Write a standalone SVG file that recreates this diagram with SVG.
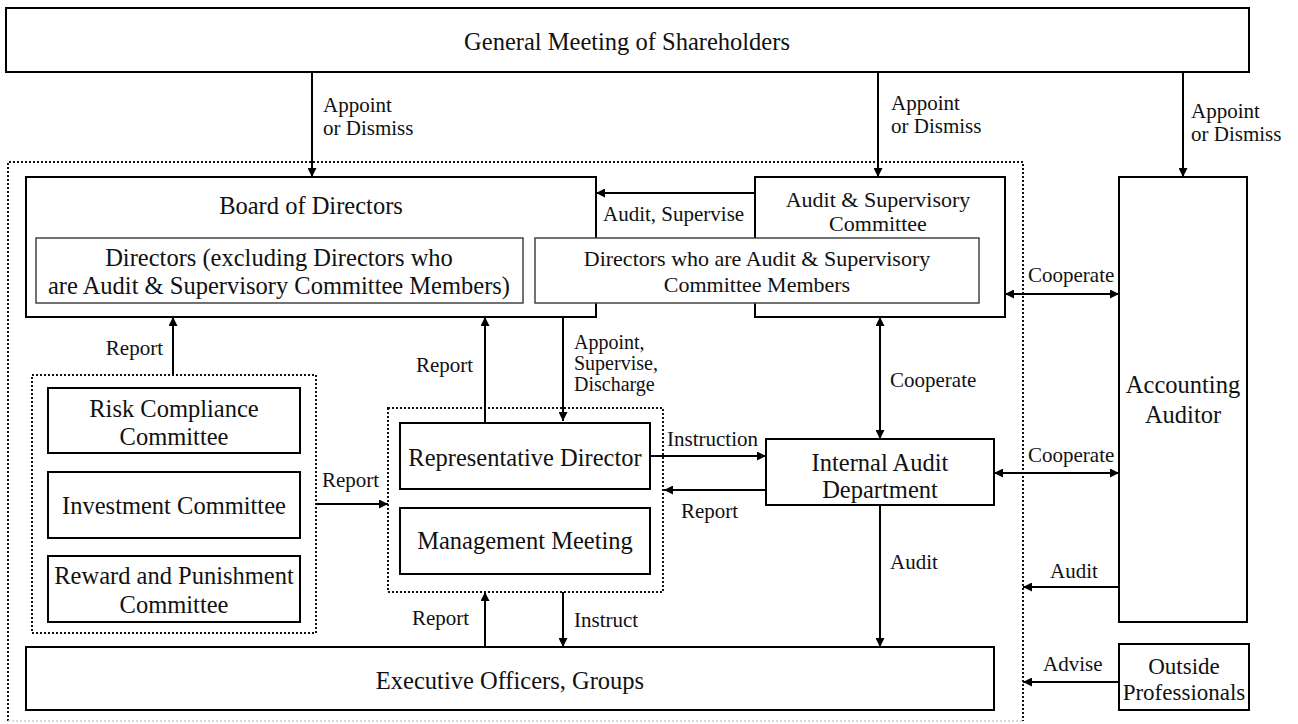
<svg xmlns="http://www.w3.org/2000/svg" width="1298" height="724" viewBox="0 0 1298 724">
<defs>
<style>
.box{fill:#fff;stroke:#000;stroke-width:2}
.inner{fill:#fff;stroke:#444;stroke-width:1.5}
.dot{fill:none;stroke:#111;stroke-width:2;stroke-dasharray:2 2}
.t{font-family:"Liberation Serif","Times New Roman",serif;font-size:24.5px;text-anchor:middle;fill:#111}
.s{font-size:22px}
.l{font-family:"Liberation Serif","Times New Roman",serif;font-size:21px;fill:#111}
.c line{stroke:#000;stroke-width:2}
</style>
<marker id="ah" viewBox="0 0 10 10" refX="10" refY="5" markerWidth="9" markerHeight="9" markerUnits="userSpaceOnUse" orient="auto-start-reverse">
<path d="M0,0 L10,5 L0,10 z" fill="#000"/>
</marker>
</defs>
<rect width="1298" height="724" fill="#fff"/>

<g id="company-boundary">
<path class="dot" d="M8,721 L8,162 L1023,162 L1023,721"/>
<line x1="8" y1="721" x2="1023" y2="721" stroke="#ccc" stroke-width="1.5" stroke-dasharray="2 2"/>
</g>

<g id="general-meeting">
<rect class="box" x="6" y="8" width="1243" height="64"/>
<text class="t" x="627" y="50">General Meeting of Shareholders</text>
</g>

<g id="board">
<rect class="box" x="26" y="177" width="570" height="140"/>
<text class="t" x="311" y="214">Board of Directors</text>
</g>

<g id="audit-committee">
<rect class="box" x="755" y="177" width="250" height="140"/>
<text class="t s" x="878" y="207">Audit &amp; Supervisory</text>
<text class="t s" x="878" y="231">Committee</text>
</g>

<g id="directors-excl">
<rect class="inner" x="36" y="238" width="487" height="65"/>
<text class="t" x="279" y="266">Directors (excluding Directors who</text>
<text class="t" x="279" y="294">are Audit &amp; Supervisory Committee Members)</text>
</g>

<g id="directors-ac">
<rect class="inner" x="535" y="238" width="444" height="65"/>
<text class="t s" x="757" y="266">Directors who are Audit &amp; Supervisory</text>
<text class="t s" x="757" y="292">Committee Members</text>
</g>

<g id="accounting-auditor">
<rect class="box" x="1119" y="177" width="128" height="445"/>
<text class="t" x="1183" y="393">Accounting</text>
<text class="t" x="1183" y="423">Auditor</text>
</g>

<g id="committees">
<rect class="dot" x="32" y="375" width="284" height="258"/>
<g id="risk-committee">
<rect class="box" x="48" y="388" width="252" height="65"/>
<text class="t" x="174" y="417">Risk Compliance</text>
<text class="t" x="174" y="445">Committee</text>
</g>
<g id="investment-committee">
<rect class="box" x="48" y="472" width="252" height="66"/>
<text class="t" x="174" y="514">Investment Committee</text>
</g>
<g id="reward-committee">
<rect class="box" x="48" y="556" width="252" height="66"/>
<text class="t" x="174" y="584">Reward and Punishment</text>
<text class="t" x="174" y="613">Committee</text>
</g>
</g>

<g id="executive-group">
<rect class="dot" x="388" y="408" width="275" height="184"/>
<g id="representative-director">
<rect class="box" x="400" y="423" width="250" height="66"/>
<text class="t" x="525" y="466">Representative Director</text>
</g>
<g id="management-meeting">
<rect class="box" x="400" y="508" width="250" height="66"/>
<text class="t" x="525" y="549">Management Meeting</text>
</g>
</g>

<g id="internal-audit">
<rect class="box" x="766" y="439" width="228" height="66"/>
<text class="t" x="880" y="471">Internal Audit</text>
<text class="t" x="880" y="498">Department</text>
</g>

<g id="executive-officers">
<rect class="box" x="26" y="647" width="968" height="63"/>
<text class="t" x="510" y="689">Executive Officers, Groups</text>
</g>

<g id="outside-professionals">
<rect class="box" x="1119" y="644" width="130" height="66"/>
<text class="t" x="1184" y="674" style="font-size:23px">Outside</text>
<text class="t" x="1184" y="700" style="font-size:23px">Professionals</text>
</g>

<g id="connectors" class="c">
<line x1="312" y1="72" x2="312" y2="177" marker-end="url(#ah)"/>
<line x1="878" y1="72" x2="878" y2="177" marker-end="url(#ah)"/>
<line x1="1183" y1="72" x2="1183" y2="177" marker-end="url(#ah)"/>
<line x1="755" y1="193" x2="596" y2="193" marker-end="url(#ah)"/>
<line x1="1005" y1="294" x2="1119" y2="294" marker-start="url(#ah)" marker-end="url(#ah)"/>
<line x1="173" y1="375" x2="173" y2="317" marker-end="url(#ah)"/>
<line x1="485" y1="423" x2="485" y2="317" marker-end="url(#ah)"/>
<line x1="563" y1="317" x2="563" y2="421" marker-end="url(#ah)"/>
<line x1="880" y1="317" x2="880" y2="439" marker-start="url(#ah)" marker-end="url(#ah)"/>
<line x1="316" y1="504" x2="388" y2="504" marker-end="url(#ah)"/>
<line x1="650" y1="456" x2="766" y2="456" marker-end="url(#ah)"/>
<line x1="766" y1="490" x2="664" y2="490" marker-end="url(#ah)"/>
<line x1="994" y1="473" x2="1119" y2="473" marker-start="url(#ah)" marker-end="url(#ah)"/>
<line x1="880" y1="505" x2="880" y2="647" marker-end="url(#ah)"/>
<line x1="1119" y1="587" x2="1023" y2="587" marker-end="url(#ah)"/>
<line x1="1119" y1="682" x2="1023" y2="682" marker-end="url(#ah)"/>
<line x1="485" y1="647" x2="485" y2="592" marker-end="url(#ah)"/>
<line x1="563" y1="592" x2="563" y2="647" marker-end="url(#ah)"/>
</g>

<g id="labels">
<text class="l" x="323" y="112">Appoint</text>
<text class="l" x="323" y="135">or Dismiss</text>
<text class="l" x="891" y="110">Appoint</text>
<text class="l" x="891" y="133">or Dismiss</text>
<text class="l" x="1191" y="118">Appoint</text>
<text class="l" x="1191" y="141">or Dismiss</text>
<text class="l" x="603" y="221">Audit, Supervise</text>
<text class="l" x="1028" y="282">Cooperate</text>
<text class="l" x="163" y="355" text-anchor="end">Report</text>
<text class="l" x="416" y="372">Report</text>
<text class="l" x="574" y="349" style="font-size:20px">Appoint,</text>
<text class="l" x="574" y="370" style="font-size:20px">Supervise,</text>
<text class="l" x="574" y="391" style="font-size:20px">Discharge</text>
<text class="l" x="890" y="387">Cooperate</text>
<text class="l" x="322" y="487">Report</text>
<text class="l" x="667" y="446">Instruction</text>
<text class="l" x="681" y="518">Report</text>
<text class="l" x="1028" y="462">Cooperate</text>
<text class="l" x="890" y="569">Audit</text>
<text class="l" x="1050" y="578">Audit</text>
<text class="l" x="1043" y="671">Advise</text>
<text class="l" x="412" y="625">Report</text>
<text class="l" x="574" y="627">Instruct</text>
</g>
</svg>
